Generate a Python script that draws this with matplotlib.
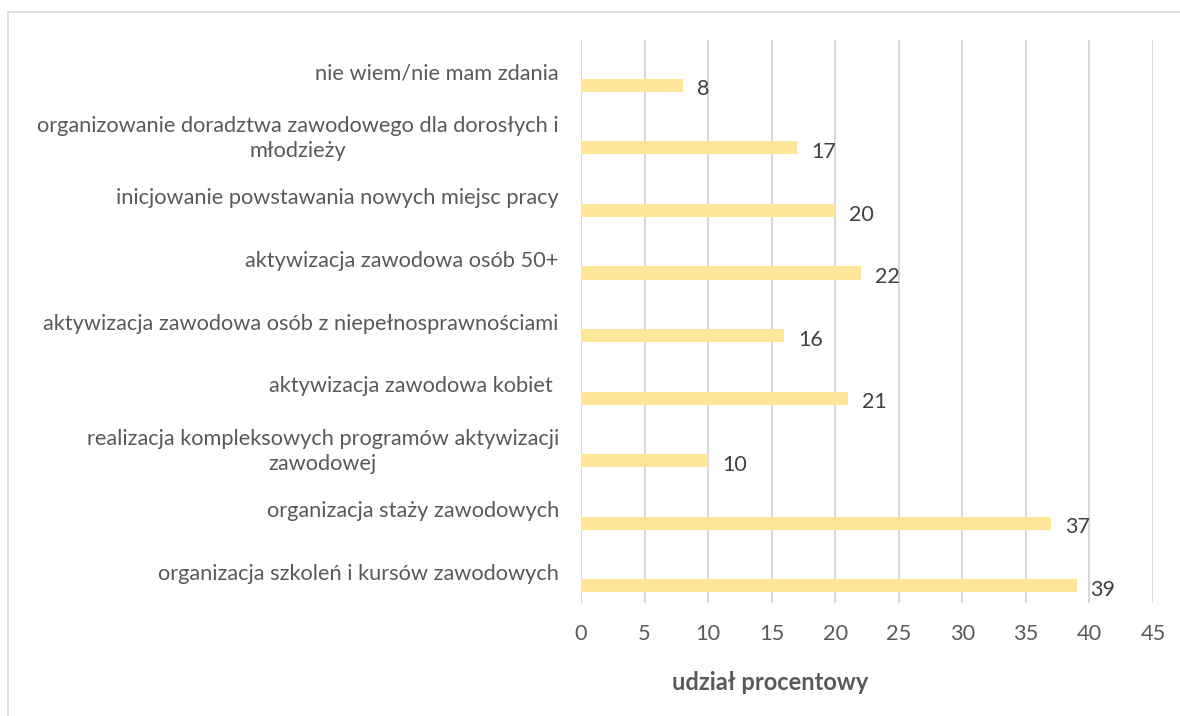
import matplotlib
matplotlib.use("Agg")
import matplotlib.pyplot as plt
from matplotlib.lines import Line2D

# categories listed bottom to top, as drawn
categories = [
    "organizacja szkoleń i kursów zawodowych",
    "organizacja staży zawodowych",
    "realizacja kompleksowych programów aktywizacji\nzawodowej",
    "aktywizacja zawodowa kobiet ",
    "aktywizacja zawodowa osób z niepełnosprawnościami",
    "aktywizacja zawodowa osób 50+",
    "inicjowanie powstawania nowych miejsc pracy",
    "organizowanie doradztwa zawodowego dla dorosłych i\nmłodzieży",
    "nie wiem/nie mam zdania",
]
values = [39, 37, 10, 21, 16, 22, 20, 17, 8]
xticks = [0, 5, 10, 15, 20, 25, 30, 35, 40, 45]

plt.rcParams['font.family'] = ['Lato', 'DejaVu Sans']

fig = plt.figure(figsize=(11.8, 7.16), dpi=100)
ax = fig.add_axes([0.4924, 0.1578, 0.4847, 0.7863])

ypos = [i - 0.224 for i in range(len(categories))]
ax.barh(ypos, values, height=0.21, color="#FFE699", zorder=3)

for y, v in zip(ypos, values):
    ax.annotate(str(v), xy=(v, y), xytext=(10, -3), textcoords="offset points",
                ha="left", va="center", fontsize=15.5, color="#404040")

ax.set_xlim(0, 45)
ax.set_ylim(-0.5, len(categories) - 0.5)
ax.set_xticks(xticks)
ax.set_xticklabels([str(t) for t in xticks])
ax.set_yticks(range(len(categories)))
ax.set_yticklabels(categories, multialignment="center", linespacing=1.35)
ax.tick_params(axis="both", length=0, labelsize=15.7, labelcolor="#595959")
ax.tick_params(axis="y", pad=16)
ax.tick_params(axis="x", pad=15)

ax.grid(axis="x", color="#D9D9D9", linewidth=1.5, zorder=0)
for s in ax.spines.values():
    s.set_visible(False)

fig.text(770 / 1180, 1 - 683 / 716, "udział procentowy", ha="center", va="center",
         fontsize=17, fontweight="bold", color="#595959")

# chart frame
fig.add_artist(Line2D([8 / 1180, 1.0], [1 - 12 / 716, 1 - 12 / 716],
                      transform=fig.transFigure, color="#D9D9D9", linewidth=1.2))
fig.add_artist(Line2D([8 / 1180, 8 / 1180], [0.0, 1 - 12 / 716],
                      transform=fig.transFigure, color="#D9D9D9", linewidth=1.2))

fig.savefig("out.png", dpi=100)
